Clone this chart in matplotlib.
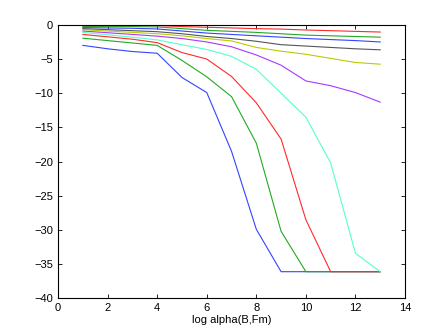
import matplotlib
matplotlib.use("Agg")
import matplotlib.pyplot as plt

plt.rcParams['font.family'] = ['Liberation Sans', 'DejaVu Sans']

x = list(range(1, 14))

s_blue1 = [-3.0, -3.5, -3.9, -4.15, -7.7, -9.9, -18.5, -29.9, -36.1, -36.1, -36.1, -36.1, -36.1]
s_green1 = [-1.95, -2.3, -2.65, -3.0, -5.2, -7.6, -10.5, -17.3, -30.2, -36.1, -36.1, -36.1, -36.1]
s_red1 = [-1.4, -1.75, -2.1, -2.6, -4.05, -5.0, -7.55, -11.4, -16.7, -28.5, -36.1, -36.1, -36.1]
s_cyan = [-1.1, -1.45, -1.8, -2.2, -2.9, -3.6, -4.6, -6.5, -10.0, -13.5, -20.2, -33.4, -36.1]
s_purple = [-0.9, -1.15, -1.4, -1.65, -2.0, -2.5, -3.2, -4.4, -5.9, -8.2, -8.9, -9.9, -11.3]
s_yellow = [-0.7, -0.9, -1.1, -1.3, -1.6, -2.0, -2.35, -3.3, -3.85, -4.3, -4.9, -5.5, -5.75]
s_gray = [-0.55, -0.7, -0.85, -1.0, -1.3, -1.7, -2.0, -2.4, -2.9, -3.1, -3.3, -3.5, -3.65]
s_blue2 = [-0.4, -0.45, -0.5, -0.6, -0.9, -1.2, -1.4, -1.6, -1.8, -2.0, -2.15, -2.3, -2.5]
s_green2 = [-0.25, -0.25, -0.25, -0.3, -0.55, -0.8, -0.95, -1.1, -1.3, -1.5, -1.6, -1.7, -1.8]
s_red2 = [-0.1, -0.1, -0.1, -0.1, -0.25, -0.35, -0.45, -0.55, -0.62, -0.75, -0.85, -0.95, -1.05]

series = [s_blue1, s_green1, s_red1, s_cyan, s_purple, s_yellow, s_gray,
          s_blue2, s_green2, s_red2]
colors = ['#3344ff', '#22aa22', '#ff2a2a', '#55ffcc', '#a838ff', '#bbcc00',
          '#555555', '#3344ff', '#22aa22', '#ff2a2a']

fig = plt.figure(figsize=(4.47, 3.36), dpi=100)
ax = fig.add_axes([0.130, 0.112, 0.776, 0.814])
for s, c in zip(series, colors):
    ax.plot(x, s, color=c, lw=0.8)

ax.set_xlim(0, 14)
ax.set_ylim(-40, 0)
ax.set_xticks(range(0, 15, 2))
ax.set_yticks(range(-40, 1, 5))
ax.tick_params(direction='in', top=True, right=True, labelsize=8, length=3, width=0.6)
for sp in ax.spines.values():
    sp.set_linewidth(0.8)
ax.set_xlabel('log alpha(B,Fm)', fontsize=8, labelpad=1)

fig.savefig('out.png', dpi=100)
